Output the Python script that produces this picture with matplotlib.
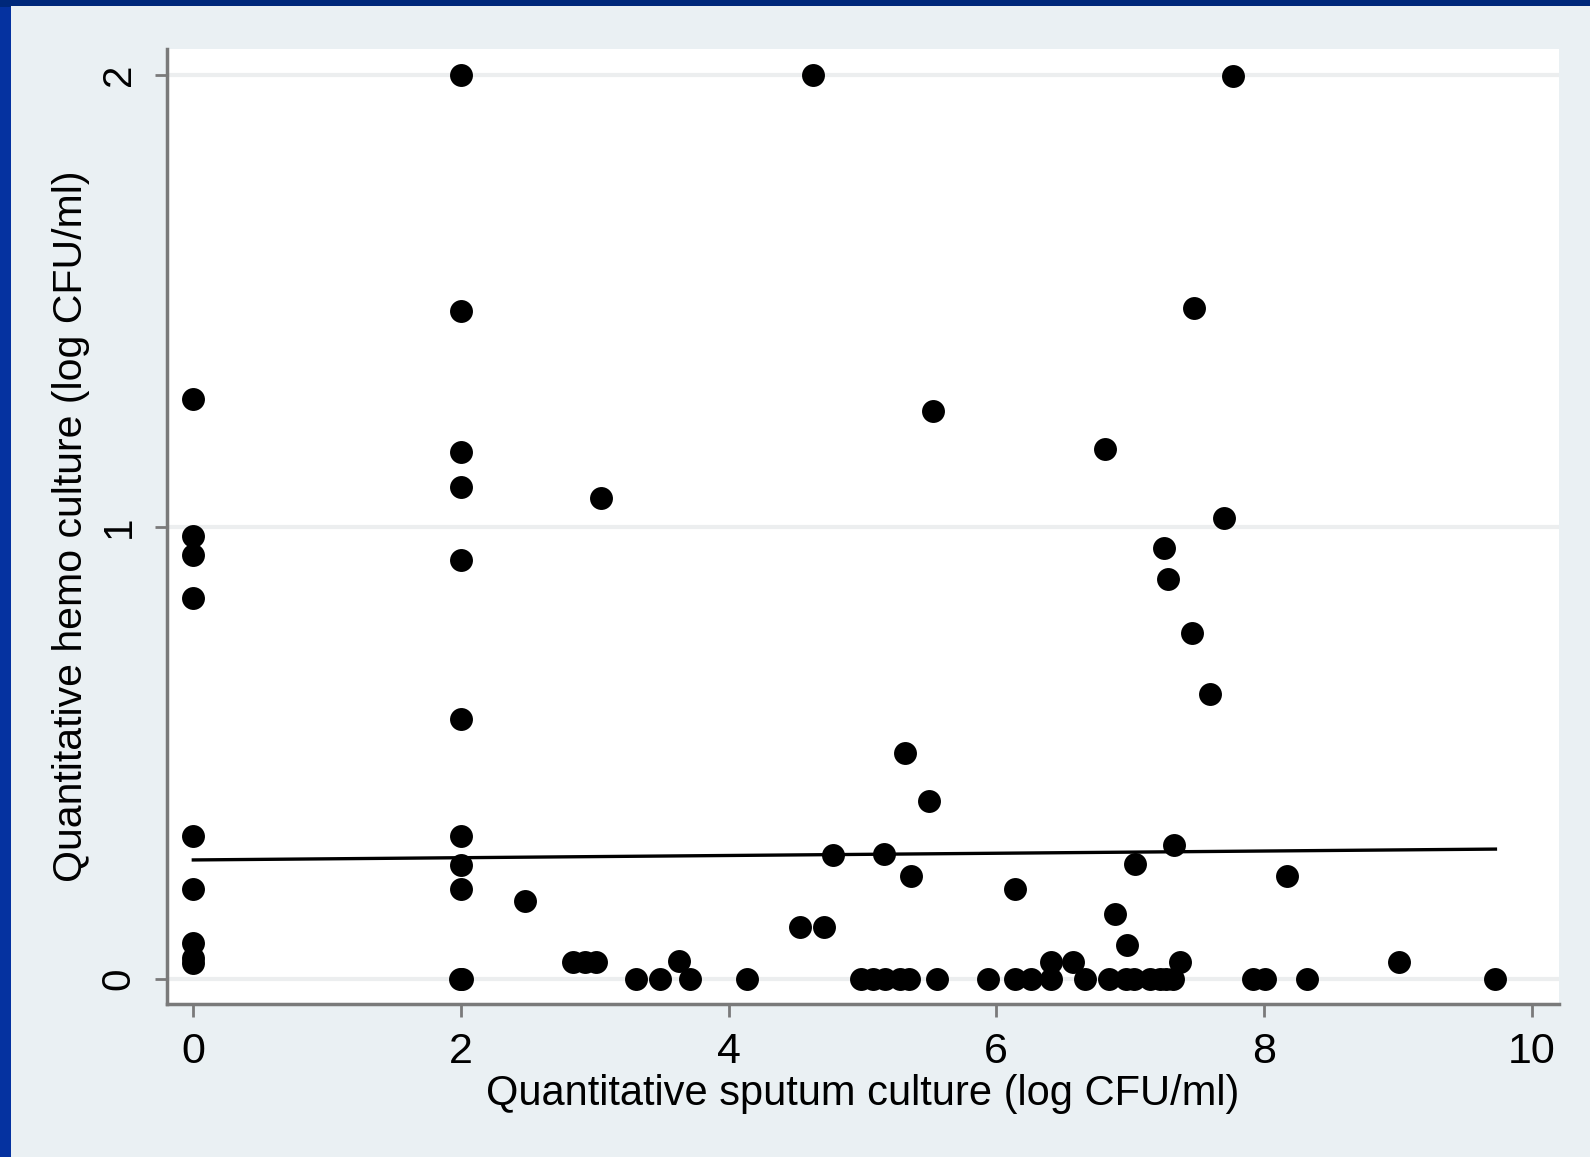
import matplotlib
matplotlib.use("Agg")
import matplotlib.pyplot as plt
from matplotlib.patches import Rectangle
import numpy as np

# data
sputum = [0, 0, 0, 0, 0, 0, 0, 0, 0,
          2, 2, 2, 2, 2, 2, 2, 2, 2, 1.99, 2.01,
          2.48, 2.84, 2.93, 3.01, 3.05, 3.31, 3.49, 3.63, 3.71, 4.14,
          4.53, 4.71, 4.63, 4.78, 4.99, 5.08, 5.17, 5.28, 5.35, 5.16,
          5.32, 5.36, 5.50, 5.53, 5.56, 5.94, 6.14, 6.14, 6.26, 6.41,
          6.41, 6.57, 6.66, 6.81, 6.89, 6.84, 6.97, 7.03, 6.98, 7.04,
          7.15, 7.22, 7.27, 7.32, 7.25, 7.28, 7.33, 7.37, 7.46, 7.48,
          7.60, 7.70, 7.77, 7.92, 8.01, 8.17, 8.32, 9.01, 9.73]
hemo = [1.284, 0.981, 0.938, 0.842, 0.316, 0.198, 0.08, 0.045, 0.035,
        2.0, 1.479, 1.165, 1.089, 0.927, 0.575, 0.316, 0.251, 0.198, 0.0, 0.0,
        0.173, 0.038, 0.038, 0.038, 1.064, 0, 0, 0.04, 0, 0,
        0.114, 0.114, 2.0, 0.274, 0, 0, 0, 0, 0, 0.276,
        0.50, 0.227, 0.393, 1.257, 0, 0, 0.198, 0, 0, 0.038,
        0, 0.038, 0, 1.172, 0.144, 0, 0, 0, 0.074, 0.254,
        0, 0, 0, 0, 0.954, 0.884, 0.296, 0.038, 0.765, 1.484,
        0.631, 1.019, 1.998, 0, 0, 0.227, 0, 0.038, 0]

# fitted line end points
fit_x = [0, 9.73]
fit_y = [0.263, 0.287]

xticks = [0, 2, 4, 6, 8, 10]
yticks = [0, 1, 2]

fig = plt.figure(figsize=(15.9, 11.57), dpi=100, facecolor="#0532a0")
# dark strip at top, light panel (behind the axes)
fig.add_artist(Rectangle((0, 0.994), 1, 0.006, transform=fig.transFigure,
                         facecolor="#00287a", edgecolor="none", zorder=-10))
fig.add_artist(Rectangle((11/1590, 0), 1, 0.9948, transform=fig.transFigure,
                         facecolor="#eaf0f3", edgecolor="none", zorder=-10))

ax = fig.add_axes([0.105, 0.1322, 0.8755, 0.8254])
ax.set_zorder(1)
ax.set_facecolor("white")

for g in yticks:
    ax.axhline(g, color="#eceeef", lw=3, zorder=1)

ax.plot(fit_x, fit_y, color="black", lw=2.4, zorder=2)
ax.plot(sputum, hemo, "o", color="black", ms=16.5, mew=0, zorder=3)

ax.set_xlim(-0.197, 10.205)
ax.set_ylim(-0.056, 2.058)

for s in ["top", "right"]:
    ax.spines[s].set_visible(False)
for s in ["left", "bottom"]:
    ax.spines[s].set_color("#7a7a7a")
    ax.spines[s].set_linewidth(2.5)

ax.set_xticks(xticks)
ax.set_yticks(yticks)
ax.set_xticklabels([str(t) for t in xticks], fontsize=31, family="Liberation Sans")
ax.set_yticklabels([str(t) for t in yticks], fontsize=29, rotation=90,
                   va="center", family="Liberation Sans")
ax.tick_params(axis="both", length=9, width=2, color="#7a7a7a")
ax.tick_params(axis="x", pad=11)
ax.tick_params(axis="y", pad=12)

ax.set_xlabel("Quantitative sputum culture (log CFU/ml)", fontsize=30,
              family="Liberation Sans", va="top")
ax.xaxis.set_label_coords(0.5, -0.073)
ax.set_ylabel("Quantitative hemo culture (log CFU/ml)", fontsize=29.5,
              family="Liberation Sans", va="center")
ax.yaxis.set_label_coords(-0.069, 0.5)

fig.savefig("out.png", dpi=100, facecolor=fig.get_facecolor())
